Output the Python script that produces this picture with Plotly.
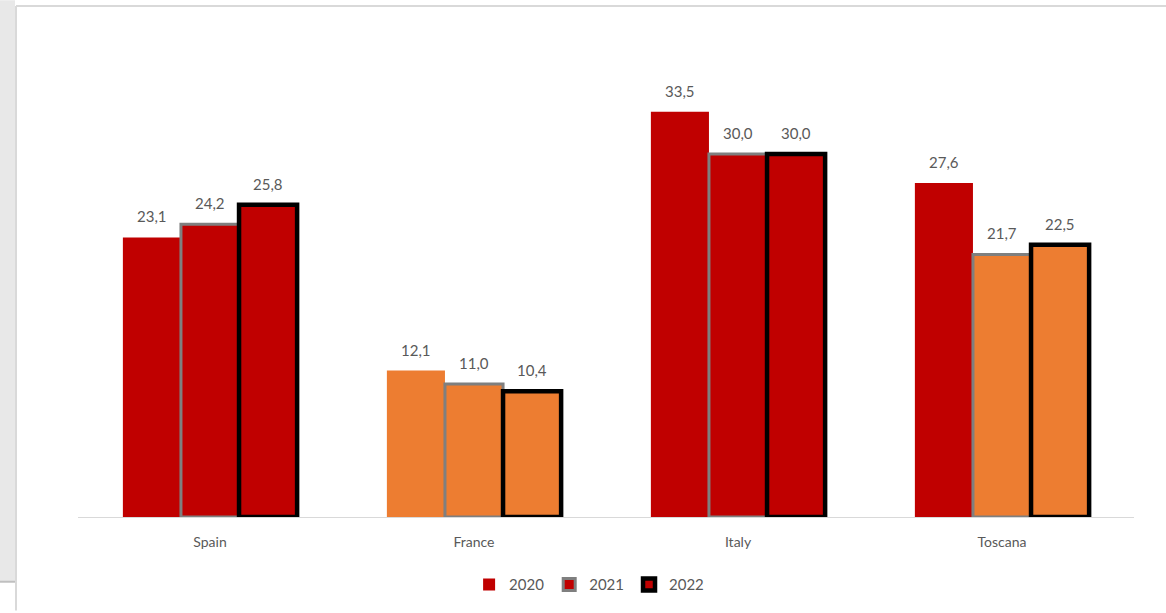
import plotly.graph_objects as go

# Categories and yearly values
countries = ["Spain", "France", "Italy", "Toscana"]
years = ["2020", "2021", "2022"]
values_2020 = [23.1, 12.1, 33.5, 27.6]
values_2021 = [24.2, 11.0, 30.0, 21.7]
values_2022 = [25.8, 10.4, 30.0, 22.5]

RED = "#C00000"
ORANGE = "#ED7D31"
# Fill colour of each bar, per year
fills_2020 = [RED, ORANGE, RED, RED]
fills_2021 = [RED, ORANGE, RED, ORANGE]
fills_2022 = [RED, ORANGE, RED, ORANGE]

W, H = 1166, 613
L, R, T, B = 78, 32, 34, 94
PW, PH = W - L - R, H - T - B

series = [
    (years[0], values_2020, fills_2020, RED, 0),
    (years[1], values_2021, fills_2021, "#7F7F7F", 3),
    (years[2], values_2022, fills_2022, "#000000", 4.5),
]

fig = go.Figure()
for name, vals, fills, line_col, line_w in series:
    fig.add_trace(go.Bar(
        x=countries, y=vals, name=name,
        marker=dict(color=fills, line=dict(color=line_col, width=line_w)),
    ))

# Value labels above every bar
bar_px = 58
for i, (name, vals, fills, line_col, line_w) in enumerate(series):
    for c, v in zip(countries, vals):
        fig.add_annotation(
            x=c, y=v, text=f"{v:.1f}".replace(".", ","), showarrow=False,
            xshift=(i - 1) * bar_px, yshift=10, yanchor="bottom",
            font=dict(size=15, color="#595959"),
        )

def px_x(p):
    return (p - L) / PW

def px_y(p):
    return (H - B - p) / PH

shapes = [
    # grey strip at the left edge
    dict(type="rect", xref="paper", yref="paper", x0=px_x(0), x1=px_x(15),
         y0=px_y(0), y1=px_y(584), fillcolor="#E8E8E8", line=dict(width=0), layer="below"),
    dict(type="line", xref="paper", yref="paper", x0=px_x(0), x1=px_x(15),
         y0=px_y(584), y1=px_y(584), line=dict(color="#BFBFBF", width=2)),
    # chart area border
    dict(type="line", xref="paper", yref="paper", x0=px_x(16), x1=px_x(W),
         y0=px_y(6), y1=px_y(6), line=dict(color="#D9D9D9", width=2)),
    dict(type="line", xref="paper", yref="paper", x0=px_x(16), x1=px_x(16),
         y0=px_y(6), y1=px_y(H), line=dict(color="#D9D9D9", width=2)),
]

fig.update_layout(
    width=W, height=H,
    margin=dict(l=L, r=R, t=T, b=B),
    paper_bgcolor="white", plot_bgcolor="white",
    font=dict(family="Lato, Open Sans, sans-serif", color="#595959", size=14),
    barmode="group", bargap=0.34, bargroupgap=0,
    showlegend=True,
    legend=dict(orientation="h", x=0.484, xanchor="center", y=px_y(587), yanchor="middle",
                font=dict(size=15, color="#595959"), itemwidth=30, traceorder="normal",
                tracegroupgap=0),
    shapes=shapes,
    xaxis=dict(showline=True, linecolor="#D9D9D9", linewidth=1, ticks="",
               ticklabelstandoff=12,
               tickfont=dict(size=14, color="#595959"), showgrid=False),
    yaxis=dict(range=[0, PH / 12.15], visible=False, showgrid=False),
)

fig.write_html("out.html")
